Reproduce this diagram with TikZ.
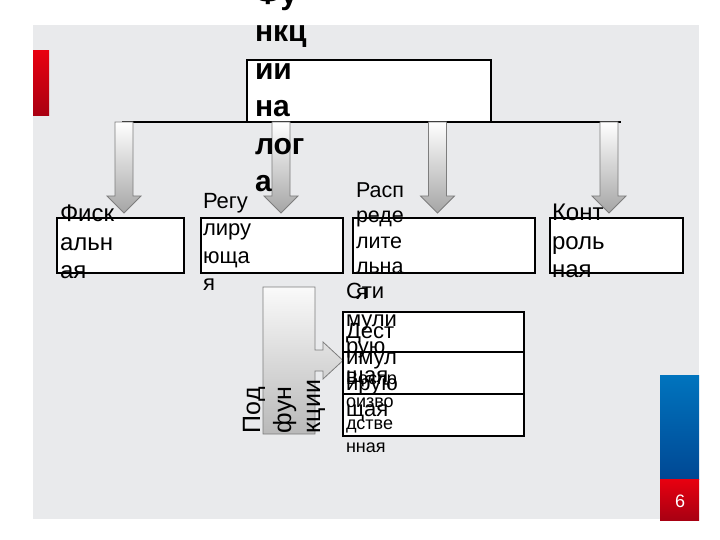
\documentclass[tikz,border=0pt]{standalone}
\usepackage{fontspec}
\setmainfont{Liberation Sans}
\definecolor{bggray}{RGB}{233,234,236}
\definecolor{redA}{RGB}{232,0,16}
\definecolor{redB}{RGB}{168,0,18}
\definecolor{blueA}{RGB}{0,116,190}
\definecolor{blueB}{RGB}{0,72,148}
\definecolor{agray}{RGB}{165,165,165}
\definecolor{aline}{RGB}{125,125,125}
\begin{document}
\begin{tikzpicture}[x=1pt,y=-1pt,
  box/.style={draw=black,line width=1.6pt,fill=white,inner sep=0pt,outer sep=0pt},
  blockarr/.style={draw=aline,line width=0.8pt,top color=white,bottom color=agray},
  tl/.style={anchor=base west,inner sep=0pt,outer sep=0pt,text=black},
  fT/.style={tl,font=\fontsize{30}{36}\selectfont\bfseries},
  fL/.style={tl,font=\fontsize{24}{28}\selectfont},
  fM/.style={tl,font=\fontsize{22}{26}\selectfont},
  fN/.style={tl,font=\fontsize{21.5}{25}\selectfont},
  fS/.style={tl,font=\fontsize{18}{22}\selectfont},
  fR/.style={tl,rotate=90,font=\fontsize{25}{30}\selectfont},
]
\clip (0,0) rectangle (720,540);
% slide background
\fill[white] (0,0) rectangle (720,540);
\fill[bggray] (33,25) rectangle (699,519);
\shade[top color=redA,bottom color=redB] (33,51) rectangle (49,116);
\shade[top color=blueA,bottom color=blueB] (660,375) rectangle (699,479);
\shade[top color=redA,bottom color=redB] (660,479) rectangle (699,520);
\node[text=white,font=\fontsize{18}{20}\selectfont,inner sep=0pt] (pnum) at (680,501) {6};

% top box and bus line
\node[box,minimum width=244pt,minimum height=62pt] (top) at (369,91) {};
\coordinate (busL) at (122,122);
\coordinate (busR) at (621,122);
\draw[line width=1.6pt] (busL) -- (busR);

% block arrows
\foreach \cx [count=\i] in {124,281,437.5,609} {
  \coordinate (a\i) at (\cx,122);
  \begin{scope}[shift={(a\i)}]
    \path[blockarr] (-9,0) -- (9,0) -- (9,74) -- (17,74) -- (0,91) -- (-17,74) -- (-9,74) -- cycle;
  \end{scope}
}

% lower boxes
\node[box,minimum width=127pt,minimum height=55pt] (b1) at (120.5,245.5) {};
\node[box,minimum width=142pt,minimum height=55pt] (b2) at (272,245.5) {};
\node[box,minimum width=182pt,minimum height=55pt] (b3) at (444,245.5) {};
\node[box,minimum width=133pt,minimum height=55pt] (b4) at (616.5,245.5) {};

% sub-functions callout arrow
\path[draw=aline,line width=0.8pt,top color=white!96!gray,bottom color=gray!55]
  (263,287) -- (315,287) -- (315,350) -- (323,350) -- (323,342) -- (343,360.5)
  -- (323,379) -- (323,371) -- (315,371) -- (315,434) -- (263,434) -- cycle;

% stacked boxes
\node[box,minimum width=181pt,minimum height=40pt] (sA) at (433.5,332) {};
\node[box,minimum width=181pt,minimum height=42pt] (sB) at (433.5,373) {};
\node[box,minimum width=181pt,minimum height=42pt] (sC) at (433.5,415) {};

% texts
\foreach \s/\yy [count=\i] in {Фу/4.5,нкц/42,ии/79.5,на/117,лог/154.5,а/192}
  {\node[fT] (tt\i) at (255,\yy) {\s};}
\foreach \s/\yy [count=\i] in {Фиск/222,альн/250,ая/278}
  {\node[fL] (tf\i) at (60,\yy) {\s};}
\foreach \s/\yy [count=\i] in {Регу/209,лиру/236,юща/263,я/290}
  {\node[fM] (tr\i) at (203,\yy) {\s};}
\foreach \s/\yy [count=\i] in {Расп/197,реде/222.5,лите/248,льна/273.5,я/299}
  {\node[fN] (td\i) at (356,\yy) {\s};}
\foreach \s/\yy [count=\i] in {Конт/221,роль/249.5,ная/277.5}
  {\node[fL] (tk\i) at (552,\yy) {\s};}
\foreach \s/\yy [count=\i] in {Сти/298,мули/326,рую/353,щая/382}
  {\node[fM] (ts\i) at (346,\yy) {\s};}
\foreach \s/\yy [count=\i] in {Дест/338,имул/364.5,ирую/390.5,щая/416}
  {\node[fM] (tds\i) at (346,\yy) {\s};}
\foreach \s/\yy [count=\i] in {Воспр/384.5,оизво/407,дстве/429.5,нная/452}
  {\node[fS] (tv\i) at (346,\yy) {\s};}
\foreach \s/\xx [count=\i] in {Под/260,фун/291,кции/320}
  {\node[fR] (tp\i) at (\xx,433) {\s};}
\end{tikzpicture}
\end{document}
